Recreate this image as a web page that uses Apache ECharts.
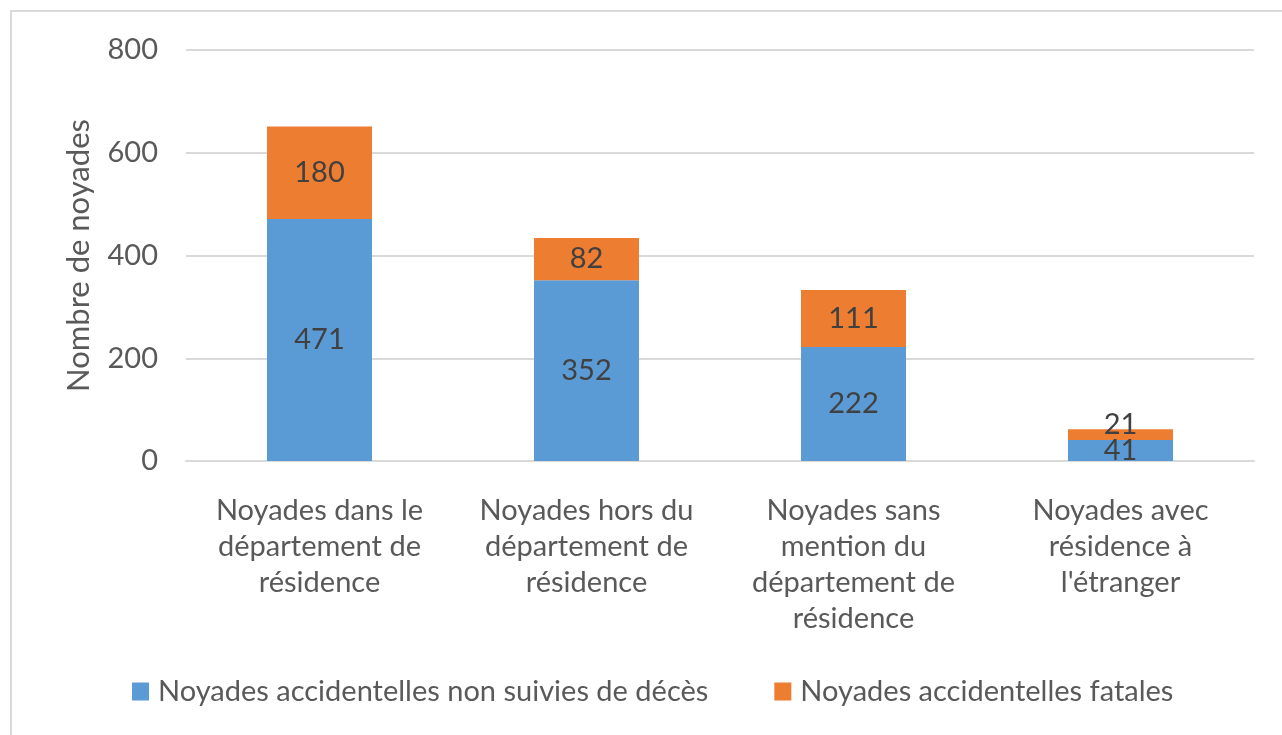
<!DOCTYPE html>
<html>
<head>
<meta charset="utf-8">
<script src="https://cdn.jsdelivr.net/npm/echarts@6/dist/echarts.min.js"></script>
<style>
html,body{margin:0;padding:0;background:#fff;}
#chart{width:1282px;height:735px;}
</style>
</head>
<body>
<div id="chart"></div>
<script>
const categories = [
  "Noyades dans le\ndépartement de\nrésidence",
  "Noyades hors du\ndépartement de\nrésidence",
  "Noyades sans\nmention du\ndépartement de\nrésidence",
  "Noyades avec\nrésidence à\nl'étranger"
];
const seriesNames = ["Noyades accidentelles non suivies de décès", "Noyades accidentelles fatales"];
const nonFatal = [471, 352, 222, 41];
const fatal = [180, 82, 111, 21];
const yTicks = [0, 200, 400, 600, 800];
const yAxisTitle = "Nombre de noyades";

const FONT = "Lato, 'Open Sans', sans-serif";
const FS = 29;
const chart = echarts.init(document.getElementById('chart'), null, {renderer: 'canvas'});

const fatalData = fatal.map((v, i) => {
  if (v < 40) {
    return {value: v, label: {offset: [0, -10]}};
  }
  return v;
});

chart.setOption({
  animation: false,
  backgroundColor: '#fff',
  textStyle: {fontFamily: FONT},
  graphic: [{
    type: 'rect',
    shape: {x: 11, y: 11, width: 1400, height: 900},
    style: {fill: 'none', stroke: '#d9d9d9', lineWidth: 2},
    silent: true
  }],
  grid: {left: 186, right: 28, top: 50, bottom: 274, containLabel: false},
  legend: {
    left: 132, top: 677, padding: 0,
    itemWidth: 17, itemHeight: 18, itemGap: 66,
    icon: 'rect',
    textStyle: {fontFamily: FONT, fontSize: FS, color: '#595959', padding: [0, 0, 0, 4]},
    data: seriesNames
  },
  xAxis: {
    type: 'category',
    data: categories,
    axisLine: {lineStyle: {color: '#d9d9d9', width: 2}},
    axisTick: {show: false},
    axisLabel: {fontFamily: FONT, fontSize: FS, color: '#595959', lineHeight: 36, margin: 32, interval: 0}
  },
  yAxis: {
    type: 'value',
    min: yTicks[0], max: yTicks[yTicks.length - 1], interval: 200,
    name: yAxisTitle,
    nameLocation: 'middle',
    nameGap: 92,
    nameTextStyle: {fontFamily: FONT, fontSize: 31, color: '#595959'},
    axisLine: {show: false},
    axisTick: {show: false},
    splitLine: {lineStyle: {color: '#d9d9d9', width: 2}},
    axisLabel: {fontFamily: FONT, fontSize: FS, color: '#595959', margin: 28}
  },
  series: [
    {
      name: seriesNames[0], type: 'bar', stack: 'total', barWidth: 105,
      itemStyle: {color: '#5b9bd5'},
      label: {show: true, position: 'inside', fontFamily: FONT, fontSize: FS, color: '#404040'},
      data: nonFatal
    },
    {
      name: seriesNames[1], type: 'bar', stack: 'total', barWidth: 105,
      itemStyle: {color: '#ed7d31'},
      label: {show: true, position: 'inside', fontFamily: FONT, fontSize: FS, color: '#404040'},
      data: fatalData
    }
  ]
});
</script>
</body>
</html>
